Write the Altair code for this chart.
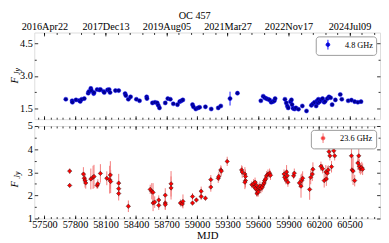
import altair as alt
import pandas as pd

FONT = "Liberation Serif"
TITLE = "OC 457"

# ---- 4.8 GHz (top panel) ----
MJD_48 = [57710, 57772, 57775, 57810, 57842, 57852, 57867, 57892, 57930, 57937,
          57956, 57962, 57984, 57987, 58018, 58041, 58051, 58082, 58088, 58120,
          58136, 58145, 58198, 58230, 58293, 58300, 58325, 58347, 58404, 58435,
          58505, 58508, 58562, 58587, 58609, 58619, 58631, 58688, 58713, 58738,
          58767, 58808, 58830, 58846, 58861, 58956, 58965, 58988, 59010, 59026,
          59083, 59140, 59209, 59234, 59325, 59398, 59628, 59651, 59666, 59682,
          59698, 59714, 59730, 59746, 59761, 59768, 59865, 59878, 59888, 59897,
          59919, 59929, 59935, 59945, 59960, 59973, 59998, 60036, 60077, 60125,
          60140, 60156, 60172, 60181, 60190, 60194, 60206, 60219, 60235, 60251,
          60260, 60282, 60298, 60314, 60329, 60361, 60409, 60424, 60487, 60519,
          60551, 60582, 60613]
FLUX_48 = [1.92, 1.85, 1.78, 1.89, 1.86, 1.82, 1.92, 1.95, 2.20, 2.28,
           2.42, 2.32, 2.18, 2.23, 2.37, 2.35, 2.37, 2.28, 2.23, 2.35,
           2.37, 2.23, 2.32, 2.32, 2.18, 2.09, 1.92, 2.03, 1.92, 1.85,
           2.03, 1.95, 1.75, 1.78, 1.75, 1.64, 1.52, 1.75, 1.95, 1.92,
           1.71, 1.67, 1.81, 1.85, 1.89, 1.67, 1.57, 1.47, 1.52, 1.55,
           1.57, 1.47, 1.52, 1.61, 1.95, 2.20, 1.85, 2.06, 1.99, 1.95,
           1.92, 1.89, 1.78, 1.81, 1.85, 1.95, 1.92, 1.75, 1.61, 1.52,
           1.81, 1.89, 1.67, 1.50, 1.47, 1.52, 1.46, 1.61, 1.38, 1.64,
           1.71, 1.78, 1.61, 1.85, 1.75, 1.92, 1.81, 1.89, 1.95, 1.78,
           1.83, 1.95, 2.03, 1.99, 1.67, 1.89, 2.14, 1.92, 1.85, 1.88,
           1.81, 1.78, 1.81]
ERR_48 = [0.03, 0.04, 0.04, 0.03, 0.03, 0.03, 0.03, 0.03, 0.04, 0.04,
          0.05, 0.04, 0.04, 0.04, 0.03, 0.03, 0.03, 0.03, 0.03, 0.03,
          0.03, 0.03, 0.03, 0.03, 0.04, 0.04, 0.04, 0.03, 0.03, 0.03,
          0.04, 0.04, 0.03, 0.03, 0.03, 0.04, 0.04, 0.03, 0.03, 0.03,
          0.03, 0.03, 0.03, 0.03, 0.03, 0.03, 0.03, 0.03, 0.03, 0.03,
          0.03, 0.03, 0.03, 0.03, 0.32, 0.04, 0.03, 0.04, 0.04, 0.03,
          0.03, 0.03, 0.03, 0.03, 0.03, 0.03, 0.03, 0.03, 0.05, 0.04,
          0.05, 0.04, 0.08, 0.10, 0.04, 0.03, 0.03, 0.03, 0.03, 0.04,
          0.05, 0.04, 0.08, 0.05, 0.04, 0.04, 0.04, 0.04, 0.04, 0.04,
          0.04, 0.03, 0.03, 0.03, 0.04, 0.03, 0.03, 0.03, 0.03, 0.03,
          0.03, 0.03, 0.03]

# ---- 23.6 GHz (bottom panel) ----
MJD_236 = [57748, 57748, 57883, 57892, 57899, 57906, 57956, 57978, 57987, 58018,
           58025, 58050, 58113, 58141, 58148, 58151, 58230, 58230, 58230, 58325,
           58540, 58555, 58568, 58568, 58584, 58624, 58624, 58688, 58688, 58688,
           58745, 58745, 58837, 58856, 58862, 58956, 58956, 58994, 59041, 59041,
           59083, 59136, 59136, 59209, 59215, 59234, 59240, 59297, 59439, 59445,
           59471, 59477, 59477, 59471, 59540, 59556, 59565, 59571, 59578, 59587,
           59590, 59597, 59603, 59609, 59619, 59628, 59641, 59651, 59660, 59666,
           59675, 59685, 59698, 59714, 59723, 59856, 59862, 59874, 59881, 59888,
           59894, 59950, 59957, 60007, 60023, 60030, 60039, 60108, 60118, 60134,
           60140, 60219, 60235, 60251, 60267, 60272, 60282, 60291, 60298, 60307,
           60323, 60345, 60354, 60519, 60525, 60535, 60551, 60582, 60591, 60597,
           60607, 60620, 60629]
FLUX_236 = [3.05, 2.43, 2.92, 2.74, 2.64, 2.54, 2.71, 2.78, 2.82, 2.43,
            2.50, 2.95, 2.74, 2.68, 2.88, 2.60, 2.53, 2.29, 2.08, 1.53,
            2.26, 2.18, 2.13, 1.67, 1.71, 1.80, 1.57, 2.01, 1.67, 1.60,
            2.32, 2.50, 1.67, 1.63, 1.74, 1.95, 1.67, 1.80, 2.18, 1.95,
            1.88, 2.68, 2.36, 2.74, 2.82, 3.10, 3.05, 3.47, 3.10, 3.01,
            2.92, 2.82, 2.64, 2.57, 2.46, 2.50, 2.36, 2.57, 2.29, 2.43,
            2.08, 2.22, 2.15, 2.32, 2.40, 2.29, 2.36, 2.46, 2.54, 2.64,
            2.71, 2.85, 2.92, 2.96, 2.87, 2.92, 2.78, 2.68, 3.01, 2.85,
            2.57, 2.85, 2.96, 2.54, 2.40, 2.64, 2.74, 2.26, 2.78, 2.92,
            3.13, 3.26, 3.15, 2.64, 3.01, 2.71, 2.96, 3.10, 3.89, 3.71,
            3.24, 3.93, 3.71, 3.71, 3.10, 3.05, 2.64, 3.40, 3.71, 3.26,
            3.15, 3.20, 3.13]
ERR_236 = [0.12, 0.08, 0.30, 0.25, 0.30, 0.25, 0.45, 0.50, 0.50, 0.15,
           0.20, 0.40, 0.30, 0.60, 0.60, 0.50, 0.40, 0.35, 0.30, 0.25,
           0.20, 0.35, 0.40, 0.35, 0.25, 0.20, 0.20, 0.30, 0.30, 0.20,
           0.50, 0.55, 0.15, 0.15, 0.30, 0.15, 0.10, 0.10, 0.20, 0.15,
           0.10, 0.20, 0.20, 0.20, 0.20, 0.20, 0.20, 0.20, 0.20, 0.25,
           0.30, 0.30, 0.30, 0.30, 0.15, 0.20, 0.15, 0.20, 0.20, 0.20,
           0.15, 0.20, 0.20, 0.20, 0.20, 0.20, 0.20, 0.20, 0.20, 0.20,
           0.20, 0.20, 0.20, 0.20, 0.20, 0.20, 0.20, 0.20, 0.30, 0.25,
           0.20, 0.15, 0.20, 0.20, 0.50, 0.30, 0.30, 0.45, 0.30, 0.30,
           0.30, 0.20, 0.20, 0.30, 0.30, 0.30, 0.30, 0.20, 0.15, 0.20,
           0.25, 0.15, 0.20, 0.60, 0.50, 0.60, 0.25, 0.30, 0.30, 0.30,
           0.25, 0.25, 0.25]

BAND_48 = "4.8 GHz"
BAND_236 = "23.6 GHz"

X_DOMAIN = [57400, 60800]
Y_DOMAIN = [1, 5]
X_MAJOR = [57500, 57800, 58100, 58400, 58700, 59000, 59300, 59600, 59900, 60200, 60500]
X_MINOR = list(range(57440, 60800, 60))
TOP_TICKS = [57500, 58100, 58700, 59300, 59900, 60500]
TOP_LABELS = ["2016Apr22", "2017Dec13", "2019Aug05", "2021Mar27", "2022Nov17", "2024Jul09"]
TOP_MINOR = list(range(57500, 60800, 120))
Y48_MAJOR = [1.5, 3.0, 4.5]
Y48_MINOR = [2.25, 3.75]
Y236_MAJOR = [1, 2, 3, 4, 5]
Y236_MINOR = [1.5, 2.5, 3.5, 4.5]

W = 355
H_TOP = 89
H_BOT = 95
MAJ = 3.5
MIN = 2.0

LEG_SYMBOL = "M0,-1V1M-0.38,0A0.38,0.38,0,1,0,0.38,0A0.38,0.38,0,1,0,-0.38,0Z"


def tick_axis(orient, values, size, labels=False, **kw):
    p = dict(orient=orient, values=values, tickSize=size, offset=-size, domain=False,
             grid=False, labels=labels, ticks=True, tickColor="black", tickWidth=0.8,
             labelPadding=1, labelOverlap=False, labelFlush=False,
             labelFont=FONT, labelFontSize=10.5, labelColor="black",
             titleFont=FONT, titleFontSize=11, titleFontWeight="normal",
             titleColor="black")
    p.update(kw)
    if "title" not in p:
        p["title"] = None
    return alt.Axis(**p)


def panel(mjd, flux, err, band, h, fill, stroke, errc, shape, size,
          ymaj, ymin, yfmt, is_top, leg_stroke, f_frac, jy_frac):
    df = pd.DataFrame({
        "mjd": mjd, "f": flux,
        "lo": [a - b for a, b in zip(flux, err)],
        "hi": [a + b for a, b in zip(flux, err)],
        "band": [band] * len(mjd),
    })
    xs = alt.Scale(domain=X_DOMAIN, nice=False, zero=False)
    ys = alt.Scale(domain=Y_DOMAIN, nice=False, zero=False)
    base = alt.Chart(df)

    if is_top:
        bottom_major = tick_axis("bottom", X_MAJOR, MAJ)
        top_major = tick_axis(
            "top", TOP_TICKS, MAJ, labels=True,
            labelExpr="%s[indexof(%s, datum.value)]" % (
                "[" + ",".join("'%s'" % s for s in TOP_LABELS) + "]",
                "[" + ",".join(str(v) for v in TOP_TICKS) + "]"))
        top_minor = tick_axis("top", TOP_MINOR, MIN)
    else:
        bottom_major = tick_axis("bottom", X_MAJOR, MAJ, labels=True, format="d",
                                 title="MJD", titlePadding=0)
        top_major = tick_axis("top", X_MAJOR, MAJ)
        top_minor = tick_axis("top", X_MINOR, MIN)
    bottom_minor = tick_axis("bottom", X_MINOR, MIN)

    left_major = tick_axis("left", ymaj, MAJ, labels=True, format=yfmt, labelPadding=2)
    right_major = tick_axis("right", ymaj, MAJ)
    left_minor = tick_axis("left", ymin, MIN)
    right_minor = tick_axis("right", ymin, MIN)

    errs = base.mark_rule(color=errc, strokeWidth=1).encode(
        x=alt.X("mjd:Q", scale=xs, axis=bottom_major),
        y=alt.Y("lo:Q", scale=ys, axis=left_major),
        y2="hi:Q",
    )
    pts = base.mark_point(filled=True, shape=shape, size=size, stroke=stroke,
                          strokeWidth=0.5, opacity=1).encode(
        x=alt.X("mjd:Q", scale=xs, axis=top_major),
        y=alt.Y("f:Q", scale=ys, axis=right_major),
        color=alt.Color("band:N", scale=alt.Scale(domain=[band], range=[fill]),
                        legend=alt.Legend(title=None, orient="top-right", offset=4,
                                          strokeColor="#9a9a9a", cornerRadius=3,
                                          padding=3, fillColor="white",
                                          symbolType=LEG_SYMBOL, symbolSize=100,
                                          symbolStrokeColor=leg_stroke,
                                          symbolStrokeWidth=1,
                                          symbolOffset=4, labelOffset=12,
                                          labelFont=FONT, labelFontSize=8.5,
                                          labelColor="black")),
    )
    m1 = base.mark_point(opacity=0).encode(
        x=alt.X("mjd:Q", scale=xs, axis=bottom_minor),
        y=alt.Y("f:Q", scale=ys, axis=left_minor),
    )
    m2 = base.mark_point(opacity=0).encode(
        x=alt.X("mjd:Q", scale=xs, axis=top_minor),
        y=alt.Y("f:Q", scale=ys, axis=right_minor),
    )
    t_f = alt.Chart(pd.DataFrame({"t": ["F"]})).mark_text(
        font=FONT, fontStyle="italic", fontSize=11, angle=270).encode(
        x=alt.value(-20), y=alt.value(h * f_frac), text="t:N")
    t_jy = alt.Chart(pd.DataFrame({"t": ["Jy"]})).mark_text(
        font=FONT, fontStyle="italic", fontSize=8, angle=270).encode(
        x=alt.value(-16.5), y=alt.value(h * jy_frac), text="t:N")

    return alt.layer(errs, pts, m1, m2, t_f, t_jy).resolve_axis(
        x="independent", y="independent").properties(width=W, height=h)


top = panel(MJD_48, FLUX_48, ERR_48, BAND_48, H_TOP, "#00008f", "#1010ff", "#1a1aff",
            "circle", 18, Y48_MAJOR, Y48_MINOR, ".1f", True, "#1010ff", 0.55, 0.45)
bot = panel(MJD_236, FLUX_236, ERR_236, BAND_236, H_BOT, "#ff0000", "#1a1a1a", "#f47a7a",
            "diamond", 20, Y236_MAJOR, Y236_MINOR, "d", False, "#f47a7a", 0.63, 0.53)

chart = alt.vconcat(top, bot, spacing=0).resolve_scale(color="independent").properties(
    title=alt.TitleParams(TITLE, font=FONT, fontSize=10.5, fontWeight="normal",
                          anchor="middle", offset=0, color="black"),
    padding=0,
).configure_view(stroke="black", strokeWidth=1).configure(background="white")

chart.save("out.html", embed_options={"renderer": "svg", "actions": False})
